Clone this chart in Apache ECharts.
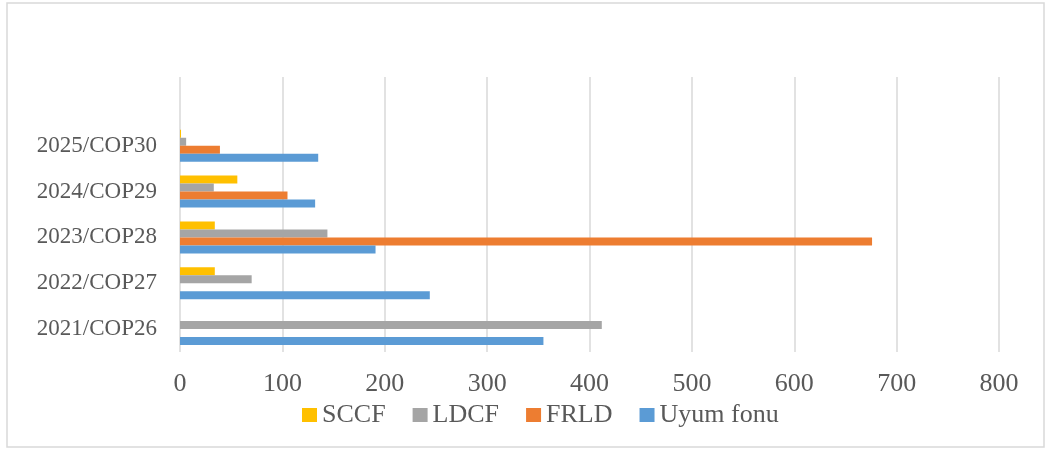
<!DOCTYPE html>
<html>
<head>
<meta charset="utf-8">
<script src="https://cdn.jsdelivr.net/npm/echarts@6/dist/echarts.min.js"></script>
<style>html,body{margin:0;padding:0;background:#fff}#c{width:1047px;height:453px}</style>
</head>
<body>
<div id="c"></div>
<script>
const categories = ['2021/COP26', '2022/COP27', '2023/COP28', '2024/COP29', '2025/COP30'];
const xTicks = [0, 100, 200, 300, 400, 500, 600, 700, 800];
const sccf = [null, 34, 34, 56, 1];
const ldcf = [412, 70, 144, 33, 6];
const frld = [null, null, 676, 105, 39];
const uyumFonu = [355, 244, 191, 132, 135];

const font = '"Liberation Serif", "Times New Roman", serif';
const chart = echarts.init(document.getElementById('c'), null, {renderer: 'canvas'});
const mk = (name, data, color) => ({
  name, type: 'bar', data, barWidth: 8, barGap: '0%',
  itemStyle: {color}, emphasis: {disabled: true}
});
chart.setOption({
  animation: false,
  graphic: [{type: 'rect', shape: {x: 7, y: 3, width: 1037, height: 444},
    style: {fill: 'none', stroke: '#d9d9d9', lineWidth: 1.5}, silent: true}],
  grid: {left: 180, right: 48, top: 77, bottom: 101, containLabel: false},
  legend: {
    data: ['SCCF', 'LDCF', 'FRLD', 'Uyum fonu'],
    bottom: 20, left: 297, itemWidth: 15, itemHeight: 14, itemGap: 27,
    icon: 'rect',
    textStyle: {fontFamily: font, fontSize: 26, color: '#595959'}
  },
  xAxis: {
    type: 'value', min: xTicks[0], max: xTicks[xTicks.length - 1], interval: 100,
    axisLine: {show: false}, axisTick: {show: false},
    splitLine: {lineStyle: {color: '#d9d9d9', width: 1.5}},
    axisLabel: {fontFamily: font, fontSize: 26, color: '#595959', margin: 19}
  },
  yAxis: {
    type: 'category', data: categories, max: categories.length,
    axisLine: {show: false}, axisTick: {show: false},
    axisLabel: {fontFamily: font, fontSize: 23, color: '#595959', margin: 23}
  },
  series: [
    mk('SCCF', sccf, '#FFC000'),
    mk('LDCF', ldcf, '#A5A5A5'),
    mk('FRLD', frld, '#ED7D31'),
    mk('Uyum fonu', uyumFonu, '#5B9BD5')
  ]
});
</script>
</body>
</html>
